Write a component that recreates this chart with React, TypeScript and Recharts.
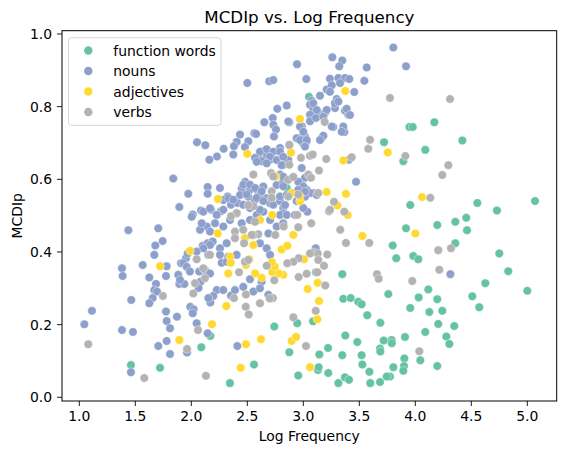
import React from "react";
import { ScatterChart, Scatter, XAxis, YAxis } from "recharts";

type P = [number, number];

const seriesNames = ["function words", "nouns", "adjectives", "verbs"];
const seriesColors = ["#66c2a5", "#8da0cb", "#ffd92f", "#b3b3b3"];
const xTicks = [1.0, 1.5, 2.0, 2.5, 3.0, 3.5, 4.0, 4.5, 5.0];
const yTicks = [0.0, 0.2, 0.4, 0.6, 0.8, 1.0];

const functionWords: P[] = [
  [3.051,0.827],[3.721,0.702],[2.852,0.576],[3.947,0.744],[3.977,0.744],[4.170,0.757],[4.420,0.707],[3.893,0.650],
  [4.089,0.681],[3.955,0.529],[4.554,0.535],[4.729,0.514],[5.069,0.540],[3.917,0.465],[4.196,0.474],[4.357,0.483],
  [4.455,0.494],[4.462,0.460],[3.798,0.418],[3.830,0.383],[3.982,0.389],[4.027,0.380],[4.357,0.424],[4.750,0.396],
  [4.830,0.347],[4.625,0.314],[5.000,0.293],[3.759,0.284],[4.116,0.297],[4.030,0.275],[4.196,0.270],[4.509,0.278],
  [4.571,0.248],[3.955,0.246],[4.125,0.235],[4.241,0.238],[4.205,0.202],[4.348,0.196],[4.089,0.180],[3.908,0.166],
  [3.789,0.158],[3.790,0.149],[4.277,0.167],[4.304,0.147],[4.045,0.102],[3.902,0.107],[3.899,0.086],[3.893,0.073],
  [3.804,0.083],[4.196,0.086],[3.774,0.057],[3.348,0.339],[3.357,0.271],[3.423,0.273],[3.491,0.263],[3.521,0.256],
  [3.571,0.226],[3.688,0.205],[2.741,0.195],[2.946,0.204],[3.087,0.209],[3.113,0.344],[3.375,0.170],[3.482,0.152],
  [3.221,0.136],[3.143,0.118],[3.348,0.116],[3.521,0.116],[3.685,0.134],[3.688,0.126],[3.718,0.156],[3.527,0.090],
  [3.590,0.070],[3.745,0.057],[3.685,0.042],[3.598,0.039],[3.313,0.039],[3.372,0.055],[3.408,0.048],[3.131,0.075],
  [3.137,0.083],[3.223,0.067],[2.955,0.060],[2.875,0.124],[2.560,0.090],[2.345,0.039],[1.461,0.089],[1.721,0.081],
  [2.089,0.138],[2.170,0.169],
];

const nouns: P[] = [
  [3.804,0.963],[3.917,0.911],[3.259,0.936],[3.348,0.927],[3.321,0.911],[2.944,0.917],[3.566,0.908],[2.500,0.865],
  [2.696,0.870],[2.732,0.873],[3.027,0.876],[3.238,0.877],[3.313,0.879],[3.372,0.879],[3.411,0.876],[3.545,0.871],
  [3.455,0.840],[3.075,0.816],[3.149,0.830],[3.209,0.847],[3.254,0.859],[3.328,0.865],[3.298,0.821],[3.283,0.796],
  [3.372,0.789],[3.402,0.778],[3.387,0.794],[3.060,0.805],[3.089,0.792],[3.134,0.783],[3.194,0.783],[3.060,0.778],
  [2.852,0.803],[2.768,0.794],[2.727,0.769],[2.652,0.757],[2.732,0.750],[2.875,0.757],[2.986,0.746],[3.060,0.760],
  [3.113,0.769],[3.268,0.744],[3.357,0.737],[3.366,0.730],[2.756,0.737],[2.738,0.718],[2.563,0.727],[2.578,0.725],
  [2.435,0.723],[2.405,0.703],[2.381,0.691],[2.375,0.668],[2.509,0.705],[2.479,0.689],[2.979,0.714],[3.015,0.718],
  [2.995,0.700],[3.030,0.705],[3.164,0.714],[3.179,0.720],[2.643,0.677],[2.673,0.663],[2.598,0.659],[2.628,0.650],
  [2.569,0.659],[2.703,0.654],[2.792,0.686],[3.408,0.654],[3.471,0.593],[2.051,0.702],[2.125,0.694],[2.289,0.684],
  [2.229,0.663],[2.161,0.654],[1.839,0.602],[1.973,0.560],[2.146,0.579],[2.256,0.576],[2.146,0.560],[2.325,0.553],
  [1.893,0.524],[2.087,0.514],[2.176,0.516],[2.265,0.512],[2.354,0.530],[2.414,0.535],[2.013,0.503],[4.313,0.339],
  [2.628,0.318],[2.524,0.325],[3.111,0.410],[3.036,0.511],[2.411,0.141],[1.438,0.460],[1.705,0.465],[1.744,0.430],
  [1.679,0.418],[1.670,0.392],[1.381,0.355],[1.387,0.334],[1.566,0.364],[1.780,0.361],[1.774,0.334],[1.625,0.330],
  [1.685,0.312],[1.670,0.295],[1.694,0.291],[1.655,0.273],[1.625,0.259],[1.464,0.268],[1.113,0.238],[1.045,0.201],
  [1.381,0.185],[1.479,0.180],[1.774,0.236],[1.780,0.210],[1.810,0.190],[1.872,0.222],[1.705,0.141],[1.780,0.155],
  [1.810,0.119],[1.962,0.123],[1.461,0.069],[2.146,0.176],[2.048,0.204],[1.991,0.249],[2.021,0.242],[2.013,0.231],
  [2.170,0.261],[2.354,0.280],[1.893,0.312],[1.938,0.312],[2.070,0.346],[2.085,0.319],[2.065,0.301],[1.908,0.369],
  [1.953,0.383],[1.968,0.396],[2.102,0.417],[2.146,0.424],[2.191,0.429],[2.004,0.497],[2.107,0.511],[2.167,0.520],
  [2.227,0.502],[2.286,0.516],[2.346,0.488],[2.212,0.479],[2.138,0.470],[2.078,0.461],[2.093,0.479],[2.167,0.456],
  [2.286,0.470],[2.405,0.506],[2.450,0.479],[2.524,0.488],[2.584,0.502],[2.643,0.511],[2.703,0.488],[2.762,0.470],
  [2.821,0.479],[2.688,0.451],[2.316,0.424],[2.256,0.410],[2.167,0.419],[2.107,0.410],[2.048,0.401],[2.152,0.392],
  [2.256,0.392],[2.330,0.387],[2.405,0.392],[2.613,0.424],[2.673,0.410],[2.703,0.392],[1.929,0.369],[1.884,0.337],
  [1.959,0.359],[1.988,0.346],[1.899,0.323],[2.122,0.350],[2.167,0.341],[2.271,0.370],[2.316,0.373],[2.227,0.295],
  [2.196,0.279],[2.152,0.273],[2.286,0.295],[2.390,0.295],[2.464,0.304],[2.554,0.291],[2.613,0.300],[2.688,0.282],
  [2.613,0.676],[2.673,0.683],[2.732,0.676],[2.703,0.662],[2.584,0.648],[2.673,0.644],[2.762,0.653],[2.875,0.694],
  [2.481,0.593],[2.450,0.575],[2.524,0.571],[2.598,0.566],[2.643,0.580],[2.762,0.584],[2.821,0.593],[2.286,0.543],
  [2.330,0.548],[2.435,0.557],[2.509,0.552],[2.569,0.543],[2.613,0.557],[2.673,0.548],[2.703,0.534],[2.464,0.585],
  [2.524,0.585],[2.569,0.576],[2.628,0.567],[2.494,0.558],[2.584,0.549],[2.643,0.540],[2.375,0.544],[2.464,0.530],
  [2.524,0.521],[2.613,0.516],[2.732,0.530],[2.792,0.540],[2.821,0.521],[2.792,0.553],[2.821,0.581],[2.792,0.613],
  [2.821,0.640],[2.866,0.654],[2.986,0.631],[3.015,0.604],[2.986,0.585],[3.089,0.562],[3.030,0.571],[2.821,0.507],
  [3.000,0.521],[2.941,0.540],[3.238,0.841],[3.089,0.809],[3.120,0.791],[3.209,0.791],[3.283,0.809],[3.313,0.814],
  [3.417,0.777],[3.254,0.745],[3.357,0.745],[3.343,0.731],[3.179,0.772],[2.866,0.759],[2.970,0.745],[3.000,0.731],
  [2.941,0.713],[2.970,0.708],[3.030,0.708],[3.015,0.690],[3.149,0.708],[2.792,0.676],[2.821,0.662],[2.807,0.639],
  [2.821,0.607],[2.911,0.607],[2.955,0.593],[3.000,0.580],[3.060,0.562],[3.015,0.552],[2.955,0.571],[2.852,0.557],
  [3.015,0.566],[3.120,0.557],[2.837,0.529],[2.792,0.502],[2.852,0.502],[2.926,0.502],
];

const adjectives: P[] = [
  [3.375,0.843],[2.970,0.766],[2.500,0.670],[2.890,0.674],[3.754,0.674],[3.357,0.652],[2.754,0.608],[4.060,0.551],
  [4.000,0.451],[2.238,0.546],[2.896,0.562],[2.970,0.540],[2.970,0.553],[3.209,0.565],[3.381,0.560],[3.304,0.528],
  [3.396,0.502],[2.723,0.502],[3.527,0.444],[3.006,0.380],[3.039,0.298],[3.140,0.265],[3.128,0.315],[3.125,0.215],
  [3.060,0.083],[2.896,0.155],[2.935,0.166],[2.441,0.081],[2.622,0.160],[2.488,0.146],[2.821,0.337],[2.779,0.341],
  [2.723,0.345],[2.745,0.360],[2.720,0.372],[2.628,0.329],[2.569,0.341],[2.807,0.407],[2.857,0.417],[2.911,0.447],
  [2.613,0.488],[2.236,0.451],[2.479,0.438],[2.554,0.419],[1.988,0.403],[2.346,0.387],[2.352,0.370],[2.330,0.341],
  [2.518,0.380],[2.488,0.364],[1.721,0.361],[2.313,0.251],[2.185,0.201],[1.893,0.158],
];

const verbs: P[] = [
  [3.774,0.824],[4.310,0.821],[3.911,0.664],[4.295,0.639],[4.241,0.612],[4.134,0.549],[4.205,0.405],[4.319,0.410],
  [4.214,0.351],[3.973,0.320],[4.036,0.127],[3.658,0.339],[3.673,0.326],[3.111,0.238],[2.911,0.220],[3.196,0.308],
  [3.024,0.141],[3.589,0.425],[3.381,0.425],[3.330,0.461],[3.366,0.511],[3.230,0.512],[3.214,0.393],[3.089,0.399],
  [3.129,0.396],[3.060,0.396],[3.134,0.378],[3.185,0.362],[2.959,0.383],[2.911,0.373],[2.857,0.369],[3.030,0.340],
  [2.959,0.331],[2.729,0.273],[2.700,0.272],[2.613,0.259],[2.488,0.283],[2.381,0.273],[2.486,0.249],[2.513,0.228],
  [2.741,0.322],[2.673,0.362],[2.426,0.344],[2.955,0.468],[3.071,0.479],[2.825,0.470],[2.946,0.502],[2.750,0.447],
  [2.598,0.449],[2.554,0.447],[2.471,0.424],[3.191,0.758],[2.875,0.695],[2.979,0.659],[3.060,0.665],[3.084,0.668],
  [3.205,0.656],[3.432,0.661],[3.596,0.709],[3.580,0.684],[2.554,0.613],[2.712,0.617],[2.732,0.608],[2.875,0.640],
  [2.866,0.599],[2.911,0.606],[3.045,0.613],[3.069,0.604],[3.140,0.624],[2.718,0.567],[2.718,0.549],[2.866,0.553],
  [2.955,0.558],[3.134,0.562],[3.274,0.538],[3.238,0.516],[2.554,0.526],[2.509,0.529],[2.405,0.507],[2.354,0.498],
  [2.569,0.483],[2.390,0.456],[2.390,0.438],[2.464,0.461],[2.539,0.447],[2.167,0.392],[2.048,0.380],[2.479,0.373],
  [2.509,0.378],[2.107,0.355],[2.122,0.328],[2.033,0.314],[2.018,0.286],[1.747,0.279],[1.080,0.146],[1.962,0.133],
  [1.580,0.053],[2.131,0.059],[2.060,0.185],[3.125,0.344],
];

const allSeries = [functionWords, nouns, adjectives, verbs];

// plot-area geometry
const W = 567, H = 453;
const PL = 62, PT = 30.7, PR = 556.7, PB = 401;
const FONT = "DejaVu Sans, sans-serif";

const makeShape = (color: string) => (props: any) => (
  <circle cx={props.cx} cy={props.cy} r={4.25} fill={color} stroke="#ffffff" strokeWidth={0.4} />
);

export default function App() {
  return (
    <div style={{ position: "relative", width: W, height: H, fontFamily: FONT }}>
      <style>{`body{margin:0;background:#fff}`}</style>
      <ScatterChart
        width={W}
        height={H}
        margin={{ top: PT, right: W - PR, bottom: H - PB - 30, left: PL - 50 }}
      >
        <XAxis
          type="number"
          dataKey="x"
          domain={[0.8455, 5.2625]}
          ticks={xTicks}
          tickFormatter={(v: number) => v.toFixed(1)}
          allowDataOverflow
          height={30}
          axisLine={false}
          tickLine={{ stroke: "#000", strokeWidth: 0.9 }}
          tickSize={5}
          tickMargin={5}
          tick={{ fill: "#000", fontSize: 13.9, fontFamily: FONT }}
        />
        <YAxis
          type="number"
          dataKey="y"
          domain={[-0.0102, 1.009]}
          ticks={yTicks}
          tickFormatter={(v: number) => v.toFixed(1)}
          allowDataOverflow
          width={50}
          axisLine={false}
          tickLine={{ stroke: "#000", strokeWidth: 0.9 }}
          tickSize={5}
          tickMargin={5}
          tick={{ fill: "#000", fontSize: 13.9, fontFamily: FONT }}
        />
        {allSeries.map((s, i) => (
          <Scatter
            key={seriesNames[i]}
            name={seriesNames[i]}
            data={s.map(([x, y]) => ({ x, y }))}
            fill={seriesColors[i]}
            shape={makeShape(seriesColors[i])}
            isAnimationActive={false}
          />
        ))}
      </ScatterChart>
      <svg
        width={W}
        height={H}
        style={{ position: "absolute", left: 0, top: 0, pointerEvents: "none" }}
        fontFamily={FONT}
      >
        <rect x={PL} y={PT} width={PR - PL} height={PB - PT} fill="none" stroke="#000" strokeWidth={1} />
        <text x={(PL + PR) / 2} y={22.5} textAnchor="middle" fontSize={16.7} fill="#000">
          MCDIp vs. Log Frequency
        </text>
        <text x={(PL + PR) / 2} y={441} textAnchor="middle" fontSize={13.9} fill="#000">
          Log Frequency
        </text>
        <text
          x={22}
          y={(PT + PB) / 2}
          textAnchor="middle"
          fontSize={13.9}
          fill="#000"
          transform={`rotate(-90 22 ${(PT + PB) / 2})`}
        >
          MCDIp
        </text>
        <rect x={68.5} y={37.8} width={152.5} height={87.5} rx={3} fill="#fff" fillOpacity={0.8} stroke="#d6d6d6" strokeWidth={1} />
        {seriesNames.map((n, i) => (
          <g key={n}>
            <circle cx={88.3} cy={50.5 + i * 20.5} r={4.25} fill={seriesColors[i]} />
            <text x={113.3} y={50.5 + i * 20.5} dy="0.36em" fontSize={13.9} fill="#000">
              {n}
            </text>
          </g>
        ))}
      </svg>
    </div>
  );
}
